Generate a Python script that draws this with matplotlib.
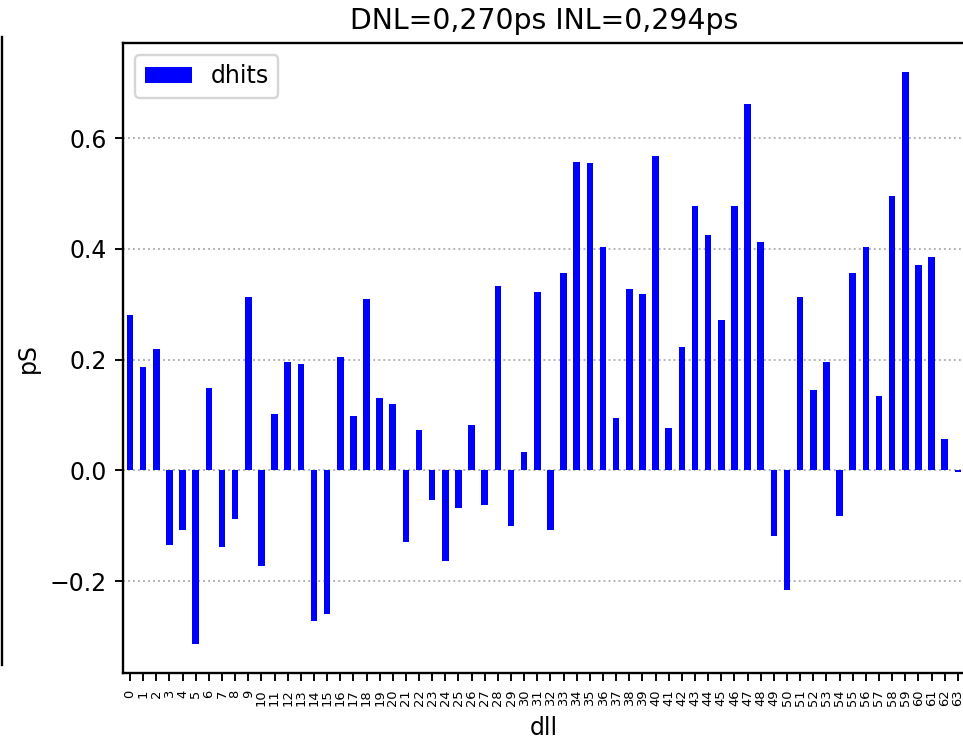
import matplotlib
matplotlib.use("Agg")
import matplotlib.pyplot as plt
from matplotlib.lines import Line2D

dll = list(range(64))
dhits = [
    0.281, 0.186, 0.219, -0.134, -0.107, -0.314, 0.148, -0.139,
    -0.087, 0.314, -0.172, 0.102, 0.196, 0.193, -0.271, -0.259,
    0.205, 0.099, 0.309, 0.130, 0.120, -0.130, 0.073, -0.054,
    -0.163, -0.068, 0.082, -0.063, 0.333, -0.100, 0.033, 0.323,
    -0.107, 0.356, 0.556, 0.555, 0.403, 0.094, 0.327, 0.319,
    0.567, 0.076, 0.223, 0.477, 0.425, 0.272, 0.477, 0.661,
    0.413, -0.118, -0.215, 0.313, 0.146, 0.196, -0.082, 0.357,
    0.404, 0.135, 0.495, 0.720, 0.371, 0.385, 0.056, -0.003,
]
dnl = "0,270"
inl = "0,294"

W, H, DPI = 963, 738, 170
fig = plt.figure(figsize=(W / DPI, H / DPI), dpi=DPI)
ax = fig.add_axes([123.4 / W, 65 / H, 841 / W, 630 / H])

ax.bar(dll, dhits, width=0.5, color="blue", label="dhits", zorder=2)
ax.set_xlim(-0.5, len(dll) - 0.5)
ax.set_xticks(dll)
ax.set_xticklabels([str(d) for d in dll], rotation=90, fontsize=5.5)
ax.yaxis.grid(True, linestyle=":", color="#b0b0b0", linewidth=0.8, zorder=0)
ax.set_axisbelow(True)
for sp in ax.spines.values():
    sp.set_linewidth(1.0)

ax.set_xlabel("dll")
ax.set_ylabel("pS")
ax.set_title("DNL=%sps INL=%sps" % (dnl, inl))
ax.legend(loc="upper left")

# right spine of the neighbouring panel
fig.add_artist(Line2D([1.5 / W, 1.5 / W], [1 - 37 / H, 1 - 665 / H],
                      transform=fig.transFigure, color="black", linewidth=1.0))

fig.savefig("out.png", dpi=DPI)
plt.close(fig)
